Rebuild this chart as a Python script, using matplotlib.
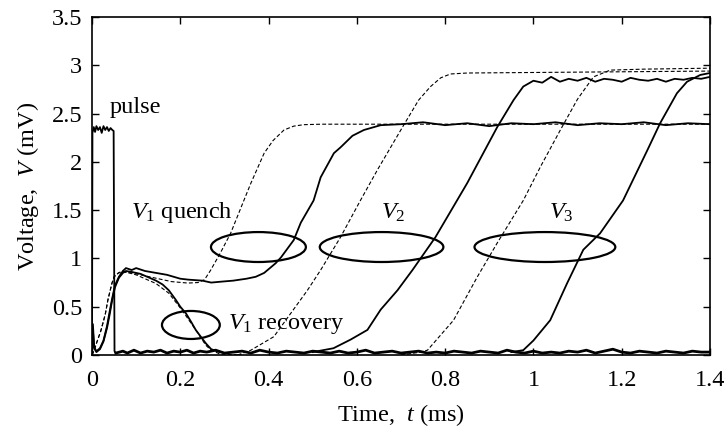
import matplotlib
matplotlib.use("Agg")
import matplotlib.pyplot as plt
from matplotlib.patches import Ellipse

plt.rcParams['font.family'] = ['Liberation Serif', 'DejaVu Serif']
plt.rcParams['mathtext.fontset'] = 'custom'
plt.rcParams['mathtext.rm'] = 'Liberation Serif'
plt.rcParams['mathtext.it'] = 'Liberation Serif:italic'

# ---- data (time in ms, voltage in mV) ----
pulse_t = [0.0, 0.001, 0.004, 0.007, 0.010, 0.014, 0.018, 0.022, 0.026, 0.030, 0.034, 0.038, 0.042, 0.046, 0.049, 0.050, 0.051, 0.054]
pulse_v = [0.0, 2.30, 2.36, 2.31, 2.37, 2.33, 2.36, 2.30, 2.37, 2.33, 2.36, 2.32, 2.35, 2.33, 2.32, 1.2, 0.04, 0.02]

base_t = [0.054, 0.07, 0.08, 0.095, 0.11, 0.125, 0.14, 0.155, 0.17, 0.185, 0.20, 0.215, 0.23, 0.245, 0.26, 0.28, 0.30, 0.32,
          0.34, 0.36, 0.38, 0.40, 0.42, 0.44, 0.46, 0.48, 0.50, 0.52, 0.54, 0.56, 0.58, 0.60, 0.62, 0.64, 0.66, 0.68, 0.70,
          0.72, 0.74, 0.76, 0.78, 0.80, 0.82, 0.84, 0.86, 0.88, 0.90, 0.92, 0.94, 0.96, 0.98, 1.00, 1.02, 1.04, 1.06,
          1.08, 1.10, 1.12, 1.14, 1.16, 1.18, 1.20, 1.22, 1.24, 1.26, 1.28, 1.30, 1.32, 1.34, 1.36, 1.38, 1.40]
base_v = [0.02, 0.04, 0.02, 0.05, 0.02, 0.04, 0.03, 0.05, 0.02, 0.04, 0.03, 0.05, 0.02, 0.04, 0.03, 0.05, 0.02, 0.03,
          0.04, 0.02, 0.05, 0.03, 0.02, 0.04, 0.03, 0.02, 0.04, 0.03, 0.02, 0.04, 0.02, 0.03, 0.05, 0.02, 0.03, 0.04, 0.02,
          0.03, 0.04, 0.02, 0.03, 0.02, 0.04, 0.03, 0.02, 0.04, 0.03, 0.02, 0.05, 0.03, 0.02, 0.04, 0.02, 0.03, 0.02,
          0.04, 0.03, 0.05, 0.02, 0.04, 0.06, 0.03, 0.02, 0.04, 0.03, 0.02, 0.04, 0.03, 0.02, 0.04, 0.03, 0.03]

q_sol_t = [0.0, 0.002, 0.005, 0.010, 0.018, 0.026, 0.034, 0.040, 0.045, 0.052, 0.061, 0.070, 0.077, 0.090, 0.100, 0.120,
           0.145, 0.170, 0.200, 0.219, 0.250, 0.270, 0.294, 0.320, 0.350, 0.371, 0.390, 0.416, 0.428, 0.457, 0.473,
           0.502, 0.518, 0.548, 0.563, 0.590, 0.616, 0.654, 0.70, 0.75, 0.80, 0.85, 0.90, 0.95, 1.00, 1.05, 1.10,
           1.15, 1.20, 1.25, 1.30, 1.35, 1.40]
q_sol_v = [0.0, 0.32, 0.08, 0.04, 0.07, 0.15, 0.30, 0.45, 0.57, 0.72, 0.81, 0.87, 0.90, 0.88, 0.90, 0.87,
           0.85, 0.83, 0.79, 0.78, 0.77, 0.75, 0.76, 0.77, 0.79, 0.81, 0.85, 0.95, 1.01, 1.19, 1.37,
           1.60, 1.84, 2.09, 2.15, 2.27, 2.33, 2.38, 2.39, 2.41, 2.38, 2.40, 2.37, 2.40, 2.39, 2.41, 2.38,
           2.40, 2.39, 2.41, 2.38, 2.40, 2.39]

r_sol_t = [0.0, 0.002, 0.005, 0.010, 0.018, 0.026, 0.034, 0.040, 0.045, 0.052, 0.061, 0.070, 0.077, 0.090, 0.110,
           0.130, 0.145, 0.160, 0.174, 0.190, 0.200, 0.213, 0.225, 0.235, 0.248, 0.258, 0.270, 0.290]
r_sol_v = [0.0, 0.25, 0.07, 0.03, 0.06, 0.14, 0.28, 0.42, 0.55, 0.70, 0.80, 0.85, 0.87, 0.86, 0.84,
           0.80, 0.77, 0.73, 0.67, 0.57, 0.50, 0.43, 0.34, 0.26, 0.18, 0.12, 0.06, 0.03]

q_dash_t = [0.0, 0.005, 0.010, 0.020, 0.030, 0.036, 0.045, 0.050, 0.060, 0.070, 0.090, 0.120, 0.150, 0.180, 0.217,
            0.240, 0.255, 0.269, 0.290, 0.314, 0.344, 0.360, 0.390, 0.410, 0.435, 0.457, 0.480, 0.520, 1.40]
q_dash_v = [0.0, 0.05, 0.12, 0.25, 0.42, 0.57, 0.74, 0.81, 0.85, 0.86, 0.85, 0.82, 0.79, 0.76, 0.745,
            0.75, 0.78, 0.88, 1.05, 1.26, 1.60, 1.78, 2.09, 2.22, 2.33, 2.37, 2.385, 2.39, 2.39]

r_dash_t = [0.0, 0.005, 0.010, 0.020, 0.030, 0.036, 0.045, 0.050, 0.060, 0.068, 0.100, 0.145, 0.174, 0.203,
            0.235, 0.258, 0.270, 0.290, 0.340]
r_dash_v = [0.0, 0.05, 0.12, 0.25, 0.42, 0.57, 0.74, 0.81, 0.85, 0.87, 0.83, 0.74, 0.64, 0.47,
            0.26, 0.10, 0.05, 0.01, 0.0]

v2_dash_t = [0.330, 0.360, 0.412, 0.450, 0.488, 0.518, 0.563, 0.608, 0.647, 0.706, 0.740, 0.767, 0.790, 0.812, 0.850, 1.40]
v2_dash_v = [0.0, 0.05, 0.19, 0.43, 0.67, 0.88, 1.22, 1.60, 1.92, 2.38, 2.64, 2.78, 2.87, 2.91, 2.92, 2.94]

v2_sol_t = [0.50, 0.547, 0.586, 0.624, 0.654, 0.692, 0.726, 0.778, 0.850, 0.918, 0.955, 0.977, 1.00, 1.02, 1.04,
            1.06, 1.08, 1.10, 1.12, 1.14, 1.16, 1.18, 1.20, 1.22, 1.24, 1.26, 1.28, 1.30, 1.32, 1.34, 1.36, 1.38, 1.40]
v2_sol_v = [0.03, 0.07, 0.16, 0.26, 0.47, 0.67, 0.88, 1.22, 1.78, 2.36, 2.64, 2.78, 2.84, 2.82, 2.88,
            2.83, 2.86, 2.84, 2.87, 2.83, 2.86, 2.85, 2.83, 2.87, 2.85, 2.84, 2.86, 2.83, 2.86, 2.85, 2.87, 2.86, 2.88]

v3_dash_t = [0.700, 0.745, 0.760, 0.819, 0.873, 0.918, 0.977, 1.016, 1.061, 1.100, 1.136, 1.174, 1.25, 1.40]
v3_dash_v = [0.0, 0.03, 0.05, 0.36, 0.81, 1.16, 1.60, 1.95, 2.33, 2.65, 2.88, 2.95, 2.96, 2.97]

v3_sol_t = [0.95, 0.977, 1.000, 1.038, 1.076, 1.113, 1.151, 1.203, 1.258, 1.287, 1.325, 1.348, 1.378, 1.40]
v3_sol_v = [0.03, 0.05, 0.15, 0.36, 0.74, 1.09, 1.26, 1.60, 2.12, 2.40, 2.71, 2.83, 2.90, 2.92]

# ellipses: (center t, center v, width, height)
ell_t = [0.377, 0.656, 1.026, 0.224]
ell_v = [1.118, 1.118, 1.118, 0.311]
ell_w = [0.215, 0.280, 0.319, 0.131]
ell_h = [0.31, 0.31, 0.31, 0.29]

x_ticks = [0, 0.2, 0.4, 0.6, 0.8, 1, 1.2, 1.4]
x_tick_labels = ['0', '0.2', '0.4', '0.6', '0.8', '1', '1.2', '1.4']
y_ticks = [0, 0.5, 1, 1.5, 2, 2.5, 3, 3.5]
y_tick_labels = ['0', '0.5', '1', '1.5', '2', '2.5', '3', '3.5']

# ---- figure ----
fig = plt.figure(figsize=(7.27, 4.30), dpi=100)
ax = fig.add_axes([92/727, 1-355/430, (710-92)/727, (355-17)/430])

solid = dict(color='black', lw=1.3, solid_joinstyle='round')
dash = dict(color='black', lw=0.8, ls=(0, (3.5, 2)))

ax.plot(base_t, base_v, color='black', lw=2.0)
ax.plot(pulse_t, pulse_v, **solid)
ax.plot(q_sol_t, q_sol_v, **solid)
ax.plot(r_sol_t, r_sol_v, **solid)
ax.plot(v2_sol_t, v2_sol_v, **solid)
ax.plot(v3_sol_t, v3_sol_v, **solid)
ax.plot(q_dash_t, q_dash_v, **dash)
ax.plot(r_dash_t, r_dash_v, **dash)
ax.plot(v2_dash_t, v2_dash_v, **dash)
ax.plot(v3_dash_t, v3_dash_v, **dash)

for t, v, w, h in zip(ell_t, ell_v, ell_w, ell_h):
    ax.add_patch(Ellipse((t, v), w, h, fill=False, ec='black', lw=1.6))

fs = 17.5
ax.text(0.041, 2.56, 'pulse', fontsize=fs, va='center', ha='left')
ax.text(0.088, 1.48, r'$V_1$ quench', fontsize=fs, va='center', ha='left')
ax.text(0.655, 1.47, r'$V_2$', fontsize=fs, va='center', ha='left')
ax.text(1.035, 1.47, r'$V_3$', fontsize=fs, va='center', ha='left')
ax.text(0.308, 0.32, r'$V_1$ recovery', fontsize=fs, va='center', ha='left')

ax.set_xlim(0, 1.4)
ax.set_ylim(0, 3.5)
ax.set_xticks(x_ticks)
ax.set_xticklabels(x_tick_labels)
ax.set_yticks(y_ticks)
ax.set_yticklabels(y_tick_labels)
ax.tick_params(direction='in', top=True, right=True, length=5, width=1.0, labelsize=fs)
ax.tick_params(axis='x', pad=11)
ax.tick_params(axis='y', pad=7)
for s in ax.spines.values():
    s.set_linewidth(1.2)

ax.set_xlabel(r'Time,  $t$ (ms)', fontsize=fs, labelpad=8)
ax.set_ylabel(r'Voltage,  $V$ (mV)', fontsize=fs, labelpad=8)

fig.savefig('out.png', dpi=100)
